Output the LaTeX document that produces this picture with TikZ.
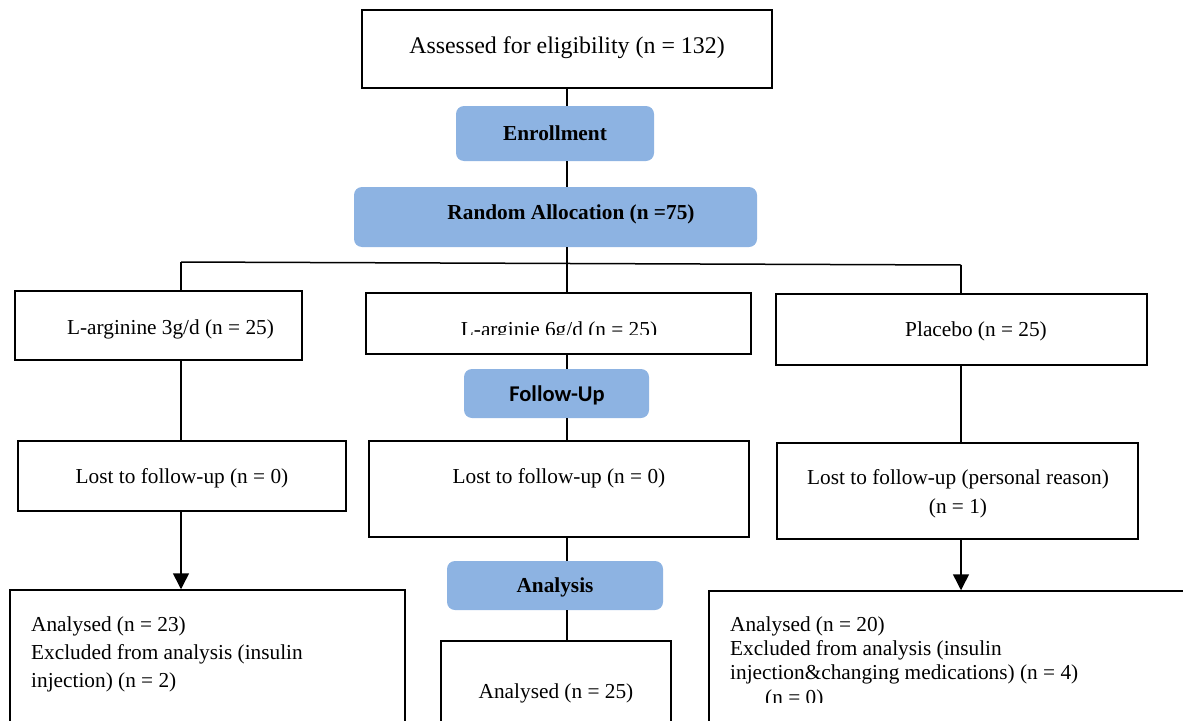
\documentclass[tikz,border=0pt]{standalone}
\usepackage{fontspec}
\setmainfont{Liberation Serif}
\newfontfamily\calibrifont{Carlito}
\usetikzlibrary{arrows.meta}
\definecolor{phaseblue}{RGB}{141,179,226}
\begin{document}
\begin{tikzpicture}[x=1pt,y=-1pt,
  box/.style={draw, line width=1.5pt, inner sep=0pt},
  phase/.style={fill=phaseblue, rounded corners=8pt, inner sep=0pt},
  txt/.style={inner sep=0pt, font=\fontsize{21.3}{28}\selectfont},
  btxt/.style={inner sep=0pt, font=\fontsize{21.3}{28}\selectfont\bfseries},
  conn/.style={line width=1.5pt},
  arr/.style={conn, -{Triangle[width=16pt,length=16pt]}}]
\path[use as bounding box] (0,0) rectangle (1183,720);
\clip (0,0) rectangle (1183,720);

% top
\node[box, minimum width=410, minimum height=78] (assess) at (567,49) {};
\node[inner sep=0pt, font=\fontsize{23.9}{28}\selectfont] (assessT) at (567,48) {Assessed for eligibility (n = 132)};

\node[phase, minimum width=198, minimum height=55] (enroll) at (555,133.5) {};
\node[btxt] (enrollT) at (555,133) {Enrollment};

\node[phase, minimum width=403, minimum height=60] (random) at (555.5,217) {};
\node[btxt] (randomT) at (571,214) {Random Allocation (n =75)};

\coordinate (L) at (181,262);
\coordinate (J) at (567,263.5);
\coordinate (R) at (961,265);

% groups
\node[box, minimum width=287, minimum height=69] (g3) at (158.5,325.5) {};
\node[txt] (g3T) at (170.5,329) {L-arginine 3g/d (n = 25)};

\node[box, minimum width=385, minimum height=61] (g6) at (558.5,323.5) {};
\begin{scope}
\clip (366,293) rectangle (751,334);
\node[txt] (g6T) at (559,331) {L-arginie 6g/d (n = 25)};
\end{scope}

\node[box, minimum width=371, minimum height=71] (gp) at (961.5,329.5) {};
\node[txt] (gpT) at (976,331) {Placebo (n = 25)};

\node[phase, minimum width=185, minimum height=49] (follow) at (556.5,393.5) {};
\node[inner sep=0pt, font=\fontsize{22.5}{28}\calibrifont\bfseries] (followT) at (557,395) {Follow-Up};

% lost
\node[box, minimum width=328, minimum height=70] (lostL) at (182,476) {};
\node[txt] (lostLT) at (182,478) {Lost to follow-up (n = 0)};

\node[box, minimum width=380, minimum height=96] (lostM) at (559,489) {};
\node[txt] (lostMT) at (559,478) {Lost to follow-up (n = 0)};

\node[box, minimum width=361, minimum height=96] (lostR) at (957.5,491) {};
\node[txt, align=center, font=\fontsize{21.3}{29}\selectfont] (lostRT) at (958,493.5) {Lost to follow-up (personal reason)\\(n = 1)};

\node[phase, minimum width=216, minimum height=49] (analysis) at (555,585.5) {};
\node[btxt] (analysisT) at (555,587) {Analysis};

% analysed
\node[box, minimum width=395, minimum height=150] (anL) at (207.5,665) {};
\node[txt, align=left, anchor=north west] (anLT) at (31,617) {Analysed (n = 23)\\Excluded from analysis (insulin\\injection)\ (n = 2)};

\node[box, minimum width=230, minimum height=99] (anM) at (556,690.5) {};
\node[txt] (anMT) at (556,693.5) {Analysed (n = 25)};

\node[box, minimum width=491, minimum height=149] (anR) at (954.5,665.5) {};
\node[txt, align=left, anchor=north west, font=\fontsize{21.3}{24}\selectfont] (anRT) at (730,617) {Analysed (n = 20)\\Excluded from analysis (insulin\\injection\&changing medications) (n = 4)};
\begin{scope}
\clip (720,680) rectangle (900,702);
\node[txt, anchor=west] (anRT2) at (765,699) {(n = 0)};
\end{scope}

% connectors
\draw[conn] (assess.south) -- (assess.south |- enroll.north);
\draw[conn] (assess.south |- enroll.south) -- (assess.south |- random.north);
\draw[conn] (assess.south |- random.south) -- (J);
\draw[conn] (L) -- (R);
\draw[conn] (L) -- (L |- g3.north);
\draw[conn] (J) -- (J |- g6.north);
\draw[conn] (R) -- (R |- gp.north);
\draw[conn] (J |- g6.south) -- (J |- follow.north);
\draw[conn] (J |- follow.south) -- (J |- lostM.north);
\draw[conn] (J |- lostM.south) -- (J |- analysis.north);
\draw[conn] (J |- analysis.south) -- (J |- anM.north);
\draw[conn] (L |- g3.south) -- (L |- lostL.north);
\draw[conn] (R |- gp.south) -- (R |- lostR.north);
\draw[arr] (L |- lostL.south) -- (L |- anL.north);
\draw[arr] (R |- lostR.south) -- (R |- anR.north);
\end{tikzpicture}
\end{document}
